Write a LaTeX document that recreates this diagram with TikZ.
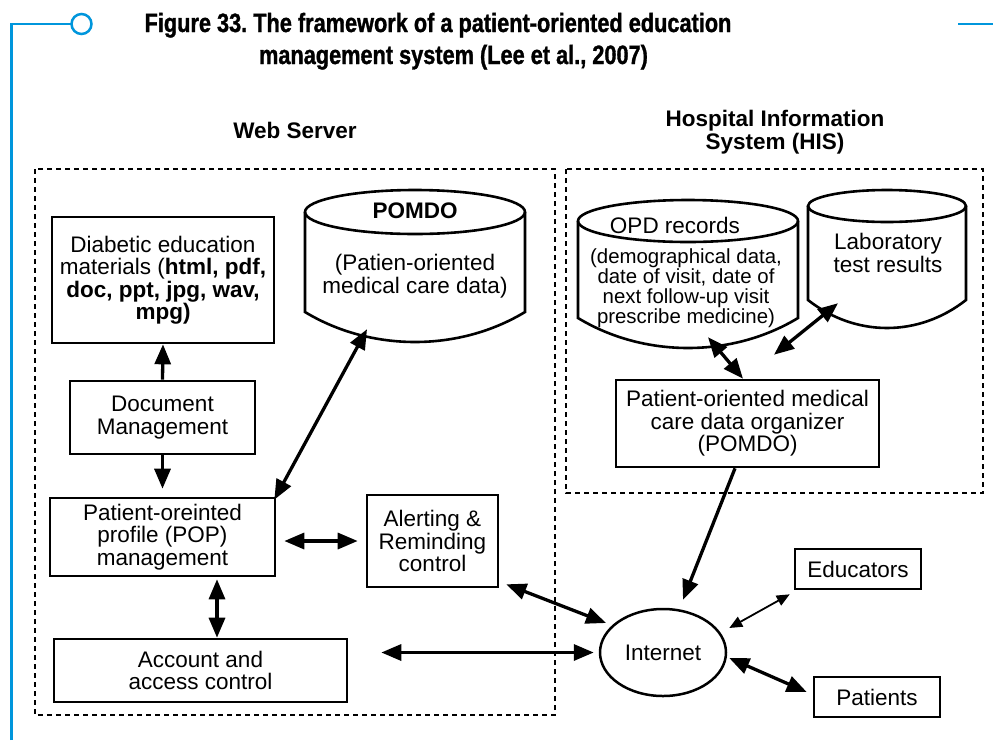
\documentclass[tikz,border=0pt]{standalone}
\usepackage{fontspec}
\setmainfont{Liberation Sans}
\newfontfamily\titlefont[FakeStretch=0.82,FakeBold=1.2]{Liberation Sans}
\usetikzlibrary{arrows.meta,shapes.geometric}
\definecolor{frameblue}{RGB}{0,150,220}
\frenchspacing
\newcommand\dtext{\fontsize{22.5}{22.5}\selectfont}
\newcommand\stext{\fontsize{20.4}{20}\selectfont}
\newcommand\ttext{\titlefont\bfseries\fontsize{26.5}{32}\selectfont}
\newcommand\drawcyl[6]{%
  \draw[cylline] ({#1},{#3+#4}) -- ({#1},{#5})
    .. controls ({#1+0.3*(#2-#1)},{#5+1.333*#6}) and ({#2-0.3*(#2-#1)},{#5+1.333*#6}) .. ({#2},{#5})
    -- ({#2},{#3+#4});
  \draw[cylline] ({(#1+#2)/2},{#3+#4}) ellipse[x radius={(#2-#1)/2}, y radius={#4}];
}
\tikzset{
  box/.style={draw, line width=2.6pt, align=center, inner sep=0pt, font=\dtext},
  cylline/.style={line width=2.6pt},
  dashedbox/.style={line width=2.3pt, dash pattern=on 5pt off 4pt},
  plain/.style={align=center, inner sep=0pt, font=\dtext},
  dbl/.style={line width=3.3pt, {Triangle[length=20pt,width=16pt]}-{Triangle[length=20pt,width=16pt]}},
  sgl/.style={line width=3.3pt, -{Triangle[length=20pt,width=16pt]}},
  thindbl/.style={line width=1.8pt, {Triangle[length=13pt,width=11pt]}-{Triangle[length=13pt,width=11pt]}},
  blueline/.style={frameblue, line width=2.7pt}
}
\begin{document}
\begin{tikzpicture}[x=1pt,y=-1pt]
\useasboundingbox (0,0) rectangle (993,740);

% blue frame
\draw[blueline] (11.5,740) -- (11.5,24) -- (71.5,24);
\draw[blueline, fill=white, line width=2.5pt] (81.5,24) circle[radius=10];
\draw[blueline] (958,24) -- (993,24);

% title
\node[anchor=base, inner sep=0pt, font=\ttext] (title1) at (438,32) {Figure 33. The framework of a patient-oriented education};
\node[anchor=base, inner sep=0pt, font=\ttext] (title2) at (453.5,64) {management system (Lee et al., 2007)};

% headers
\node[plain, font=\dtext\bfseries] (webserver) at (295,130) {Web Server};
\node[plain, font=\dtext\bfseries] (his) at (775,132) {Hospital Information\\System (HIS)};

% dashed groups
\draw[dashedbox] (35,169) rectangle (555,715);
\draw[dashedbox] (566,169) rectangle (983,493);

% cylinders
\drawcyl{305}{525}{190}{22}{312}{30}
\drawcyl{578}{798}{200}{21}{318}{30}
\drawcyl{808}{966}{190}{16}{300}{28}
\node[minimum width=220pt, minimum height=152pt, inner sep=0pt] (pomdo) at (415,266) {};
\node[minimum width=220pt, minimum height=148pt, inner sep=0pt] (opd) at (688,274) {};
\node[minimum width=158pt, minimum height=138pt, inner sep=0pt] (lab) at (887,259) {};

\node[plain, font=\dtext\bfseries] (pomdotitle) at (415,211) {POMDO};
\node[plain] (pomdotext) at (415,276) {(Patien-oriented\\medical care data)};
\node[plain] (opdtitle) at (675,225) {OPD records};
\node[plain, font=\stext] (opdtext) at (686,288) {(demographical data,\\date of visit, date of\\next follow-up visit\\prescribe medicine)};
\node[plain] (labtext) at (888,253) {Laboratory\\test results};

% boxes
\node[box, minimum width=222pt, minimum height=126pt] (diab) at (163,280)
  {Diabetic education\\materials (\textbf{html, pdf,}\\\textbf{doc, ppt, jpg, wav,}\\\textbf{mpg)}};
\node[box, minimum width=185pt, minimum height=73pt] (doc) at (162.5,417.5) {Document\\Management};
\node[box, minimum width=225pt, minimum height=78pt] (pop) at (162.5,537) {Patient-oreinted\\profile (POP)\\management};
\node[box, minimum width=131pt, minimum height=92pt] (alert) at (432.5,541) {Alerting \&\\Reminding\\control};
\node[box, minimum width=293pt, minimum height=63pt] (acct) at (200.5,670.5) {Account and\\access control};
\node[box, minimum width=263pt, minimum height=87pt] (org) at (747.5,423.5) {Patient-oriented medical\\care data organizer\\(POMDO)};
\node[draw, ellipse, line width=2.5pt, minimum width=126pt, minimum height=87pt, inner sep=0pt, font=\dtext] (inet) at (663,652.5) {Internet};
\node[box, minimum width=126pt, minimum height=40pt] (edu) at (858,569) {Educators};
\node[box, minimum width=126pt, minimum height=40pt] (pat) at (877,697) {Patients};

% connectors
\draw[sgl] (doc.north) -- (diab.south);
\draw[sgl, shorten >=8pt] (doc.south) -- (doc.south |- pop.north);
\draw[dbl] ([xshift=-48pt,yshift=13pt]pomdo.south) -- ([xshift=-2pt,yshift=-3pt]pop.north east);
\draw[dbl, shorten <=8pt, shorten >=8pt] (pop.east |- alert.west) -- (alert.west);
\draw[dbl] ([xshift=54.5pt,yshift=-2pt]pop.south) -- ([xshift=16.5pt]acct.north);
\draw[dbl] ([xshift=33pt]acct.east |- inet.west) -- ([xshift=-5pt]inet.west);
\draw[dbl] ([xshift=7pt,yshift=4pt]alert.south east) -- ([xshift=-57pt,yshift=29.5pt]inet.center);
\draw[sgl] ([xshift=-12.5pt]org.south) -- ([xshift=20pt,yshift=8pt]inet.north);
\draw[thindbl] ([xshift=2pt,yshift=24.5pt]inet.east) -- ([xshift=-4pt,yshift=-4pt]edu.south west);
\draw[dbl] ([xshift=2pt,yshift=-5.5pt]inet.east) -- ([xshift=-6pt,yshift=5pt]pat.west);
\draw[dbl] ([xshift=20pt,yshift=11pt]opd.south) -- ([xshift=-4.5pt]org.north);
\draw[dbl] ([xshift=-49pt,yshift=25pt]lab.south) -- ([xshift=26.5pt,yshift=24pt]org.north);
\end{tikzpicture}
\end{document}
